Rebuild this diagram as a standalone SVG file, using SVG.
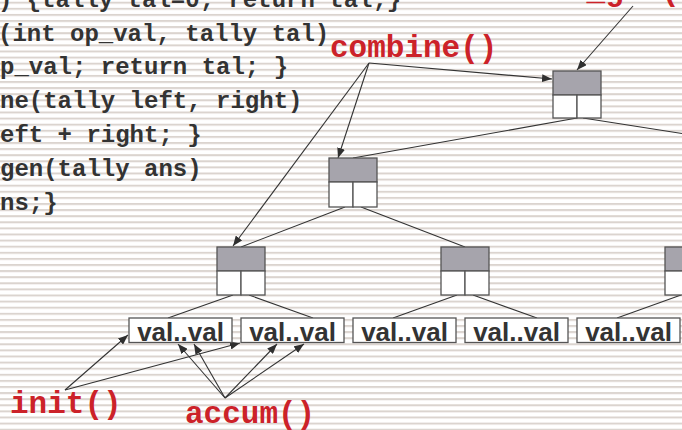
<svg xmlns="http://www.w3.org/2000/svg" width="682" height="430" viewBox="0 0 682 430">
  <defs>
    <pattern id="stripes" patternUnits="userSpaceOnUse" x="0" y="1.7" width="682" height="6.1">
      <rect x="0" y="0" width="682" height="2" fill="#dbd4cf"/>
    </pattern>
    <marker id="arrow" markerUnits="userSpaceOnUse" markerWidth="11" markerHeight="8" refX="10" refY="4" orient="auto">
      <path d="M0,0 L10,4 L0,8 z" fill="#2f2f2f"/>
    </marker>
  </defs>
  <style>
    .code { font-family: "Liberation Mono", "Courier New", monospace; font-weight: bold; font-size: 24px; fill: #333333; }
    .fn { font-family: "Liberation Mono", "Courier New", monospace; font-weight: bold; font-size: 31px; fill: #cc2229; }
    .val { font-family: "Liberation Sans", Arial, sans-serif; font-weight: bold; font-size: 26px; fill: #333333; text-anchor: middle; }
    .head { fill: #a6a4ac; stroke: #555555; stroke-width: 1.3; }
    .cell { fill: #ffffff; stroke: #555555; stroke-width: 1.3; }
    .leaf { fill: #ffffff; stroke: #555555; stroke-width: 1.3; }
    .edge { stroke: #333333; stroke-width: 1.1; fill: none; }
    .ptr { stroke: #333333; stroke-width: 1.1; fill: none; marker-end: url(#arrow); }
  </style>

  <!-- ruled background -->
  <rect width="682" height="430" fill="#ffffff"/>
  <rect width="682" height="430" fill="url(#stripes)"/>

  <!-- code listing -->
  <g id="code">
    <text class="code" x="-2" y="7">) {tally tal=0; return tal;}</text>
    <text class="code" x="-2" y="40.5">(int op_val, tally tal)</text>
    <text class="code" x="0" y="74">p_val; return tal; }</text>
    <text class="code" x="0" y="108">ne(tally left, right)</text>
    <text class="code" x="0" y="141.5">eft + right; }</text>
    <text class="code" x="0" y="175.5">gen(tally ans)</text>
    <text class="code" x="0" y="210">ns;}</text>
  </g>

  <!-- tree connectors -->
  <g id="connectors">
    <line class="edge" x1="577" y1="118" x2="353" y2="158"/>
    <line class="edge" x1="583" y1="118" x2="682" y2="133.5"/>
    <line class="edge" x1="345" y1="207" x2="241" y2="247"/>
    <line class="edge" x1="361" y1="207" x2="465" y2="247"/>
    <line class="edge" x1="233" y1="295" x2="168" y2="318"/>
    <line class="edge" x1="249" y1="295" x2="313" y2="318"/>
    <line class="edge" x1="457" y1="295" x2="393" y2="318"/>
    <line class="edge" x1="473" y1="295" x2="537" y2="318"/>
    <line class="edge" x1="681" y1="295" x2="617" y2="318"/>

    <!-- function pointers -->
    <line class="ptr" x1="633" y1="6" x2="577" y2="70"/>
    <line class="ptr" x1="369" y1="63" x2="552" y2="79"/>
    <line class="ptr" x1="369" y1="63" x2="338" y2="158"/>
    <line class="ptr" x1="369" y1="63" x2="233" y2="246"/>
    <line class="ptr" x1="65" y1="390" x2="128" y2="335"/>
    <line class="ptr" x1="65" y1="390" x2="240" y2="343"/>
    <line class="ptr" x1="225" y1="398" x2="178" y2="344"/>
    <line class="ptr" x1="225" y1="398" x2="194" y2="344"/>
    <line class="ptr" x1="225" y1="398" x2="277" y2="344"/>
    <line class="ptr" x1="225" y1="398" x2="304" y2="344"/>
  </g>

  <!-- tally nodes -->
  <g id="node-root">
    <rect class="head" x="553" y="71" width="48" height="24"/>
    <rect class="cell" x="553" y="95" width="24" height="23"/>
    <rect class="cell" x="577" y="95" width="24" height="23"/>
  </g>
  <g id="node-mid">
    <rect class="head" x="329" y="158" width="48" height="24"/>
    <rect class="cell" x="329" y="182" width="24" height="25"/>
    <rect class="cell" x="353" y="182" width="24" height="25"/>
  </g>
  <g id="node-low-1">
    <rect class="head" x="217" y="247" width="48" height="24"/>
    <rect class="cell" x="217" y="271" width="24" height="24"/>
    <rect class="cell" x="241" y="271" width="24" height="24"/>
  </g>
  <g id="node-low-2">
    <rect class="head" x="441" y="247" width="48" height="24"/>
    <rect class="cell" x="441" y="271" width="24" height="24"/>
    <rect class="cell" x="465" y="271" width="24" height="24"/>
  </g>
  <g id="node-low-3">
    <rect class="head" x="665" y="247" width="48" height="24"/>
    <rect class="cell" x="665" y="271" width="24" height="24"/>
    <rect class="cell" x="689" y="271" width="24" height="24"/>
  </g>

  <!-- value blocks -->
  <g id="leaf-1"><rect class="leaf" x="129" y="318" width="103" height="24.5"/><text class="val" x="180.5" y="341">val..val</text></g>
  <g id="leaf-2"><rect class="leaf" x="241" y="318" width="103" height="24.5"/><text class="val" x="292.5" y="341">val..val</text></g>
  <g id="leaf-3"><rect class="leaf" x="353" y="318" width="103" height="24.5"/><text class="val" x="404.5" y="341">val..val</text></g>
  <g id="leaf-4"><rect class="leaf" x="465" y="318" width="103" height="24.5"/><text class="val" x="516.5" y="341">val..val</text></g>
  <g id="leaf-5"><rect class="leaf" x="577" y="318" width="103" height="24.5"/><text class="val" x="628.5" y="341">val..val</text></g>

  <!-- function labels -->
  <g id="labels">
    <text class="fn" x="475" y="0">reduce_gen()</text>
    <text class="fn" x="330" y="57">combine()</text>
    <text class="fn" x="10" y="413">init()</text>
    <text class="fn" x="185" y="423">accum()</text>
  </g>
</svg>
